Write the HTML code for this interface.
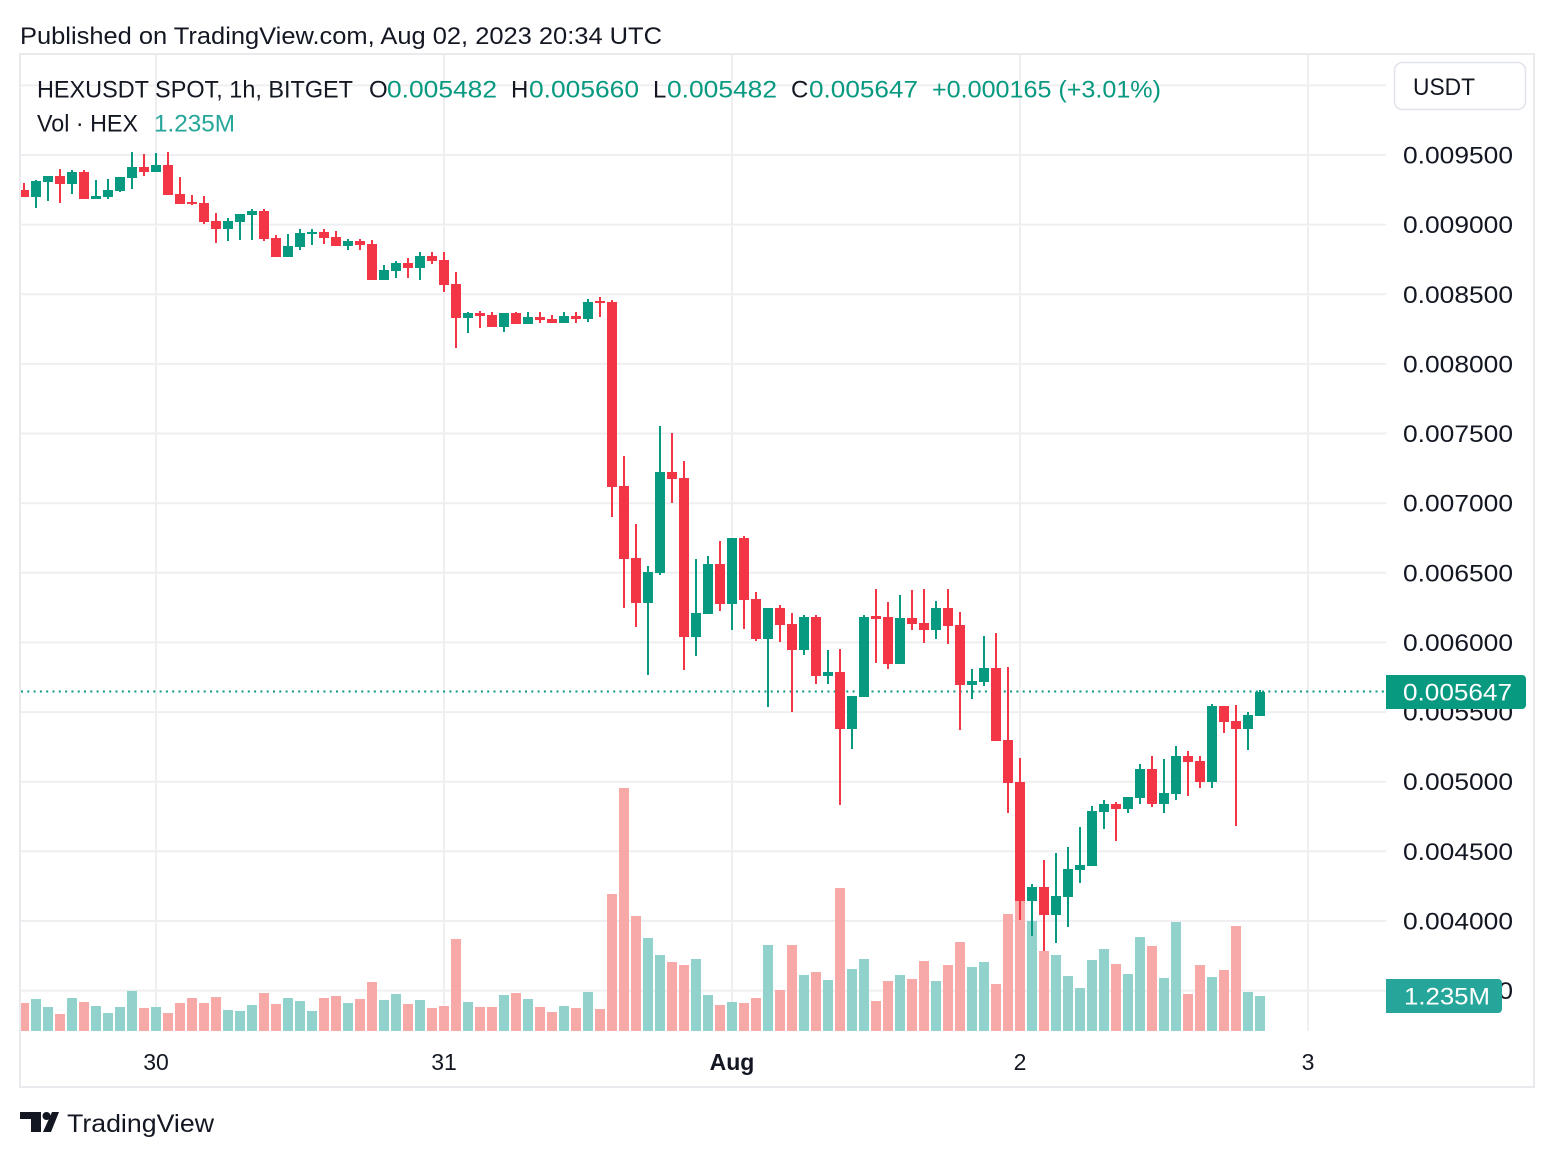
<!DOCTYPE html>
<html><head><meta charset="utf-8"><style>
html,body{margin:0;padding:0;background:#fff;}
svg{display:block;}
text{font-family:"Liberation Sans",sans-serif;}
.g{fill:#089981}.r{fill:#f23645}
.vg{fill:#92d2cc}.vr{fill:#f7a9a7}
.grid{stroke:#efeff1;stroke-width:2}
.pl{font-size:24px;fill:#131722}
</style></head><body>
<svg width="1554" height="1158" viewBox="0 0 1554 1158" xmlns="http://www.w3.org/2000/svg">
<rect width="1554" height="1158" fill="#fff"/>
<text x="20" y="44" font-size="24" fill="#131722" textLength="642" lengthAdjust="spacingAndGlyphs">Published on TradingView.com, Aug 02, 2023 20:34 UTC</text>
<rect x="20" y="54" width="1514" height="1033" fill="#fff" stroke="#e9e9ee" stroke-width="2"/>
<g class="grid">
<path d="M21 85.4H1386M21 155H1386M21 224.6H1386M21 294.3H1386M21 363.9H1386M21 433.5H1386M21 503.2H1386M21 572.8H1386M21 642.4H1386M21 712.1H1386M21 781.7H1386M21 851.3H1386M21 921H1386M21 990.6H1386"/>
<path d="M156 55V1031M444 55V1031M732 55V1031M1020 55V1031M1308 55V1031"/>
</g>
<path class="vg" d="M31 999h10V1031h-10zM43 1007h10V1031h-10zM67 998h10V1031h-10zM91 1006h10V1031h-10zM103 1013h10V1031h-10zM115 1007h10V1031h-10zM127 991h10V1031h-10zM151 1007h10V1031h-10zM223 1010h10V1031h-10zM235 1011h10V1031h-10zM247 1005h10V1031h-10zM283 998h10V1031h-10zM295 1001h10V1031h-10zM307 1011h10V1031h-10zM343 1003h10V1031h-10zM379 1000h10V1031h-10zM391 994h10V1031h-10zM415 1000h10V1031h-10zM463 1002h10V1031h-10zM499 995h10V1031h-10zM523 999h10V1031h-10zM559 1006h10V1031h-10zM583 992h10V1031h-10zM643 938h10V1031h-10zM655 955h10V1031h-10zM691 959h10V1031h-10zM703 995h10V1031h-10zM727 1002h10V1031h-10zM763 945h10V1031h-10zM799 975h10V1031h-10zM823 980h10V1031h-10zM847 969h10V1031h-10zM859 959h10V1031h-10zM895 975h10V1031h-10zM931 981h10V1031h-10zM967 967h10V1031h-10zM979 962h10V1031h-10zM1027 921h10V1031h-10zM1051 955h10V1031h-10zM1063 976h10V1031h-10zM1075 988h10V1031h-10zM1087 960h10V1031h-10zM1099 949h10V1031h-10zM1123 974h10V1031h-10zM1135 937h10V1031h-10zM1159 978h10V1031h-10zM1171 922h10V1031h-10zM1207 977h10V1031h-10zM1243 992h10V1031h-10zM1255 996h10V1031h-10z"/>
<path class="vr" d="M21 1003h8V1031h-8zM55 1014h10V1031h-10zM79 1002h10V1031h-10zM139 1008h10V1031h-10zM163 1013h10V1031h-10zM175 1003h10V1031h-10zM187 998h10V1031h-10zM199 1003h10V1031h-10zM211 997h10V1031h-10zM259 993h10V1031h-10zM271 1004h10V1031h-10zM319 998h10V1031h-10zM331 996h10V1031h-10zM355 999h10V1031h-10zM367 982h10V1031h-10zM403 1004h10V1031h-10zM427 1008h10V1031h-10zM439 1006h10V1031h-10zM451 939h10V1031h-10zM475 1007h10V1031h-10zM487 1007h10V1031h-10zM511 993h10V1031h-10zM535 1007h10V1031h-10zM547 1012h10V1031h-10zM571 1008h10V1031h-10zM595 1009h10V1031h-10zM607 894h10V1031h-10zM619 788h10V1031h-10zM631 916h10V1031h-10zM667 962h10V1031h-10zM679 965h10V1031h-10zM715 1005h10V1031h-10zM739 1003h10V1031h-10zM751 998h10V1031h-10zM775 990h10V1031h-10zM787 945h10V1031h-10zM811 972h10V1031h-10zM835 888h10V1031h-10zM871 1001h10V1031h-10zM883 981h10V1031h-10zM907 979h10V1031h-10zM919 961h10V1031h-10zM943 965h10V1031h-10zM955 942h10V1031h-10zM991 984h10V1031h-10zM1003 914h10V1031h-10zM1015 900h10V1031h-10zM1039 951h10V1031h-10zM1111 964h10V1031h-10zM1147 946h10V1031h-10zM1183 994h10V1031h-10zM1195 965h10V1031h-10zM1219 970h10V1031h-10zM1231 926h10V1031h-10z"/>
<path d="M21 691.5H1386" stroke="#089981" stroke-width="2" stroke-dasharray="2 4.3"/>
<path class="r" d="M23 183h2v14h-2zM21 190h8v7h-8z"/>
<path class="g" d="M35 180h2v28h-2zM31 181h10v16h-10z"/>
<path class="g" d="M47 176h2v25h-2zM43 176h10v6h-10z"/>
<path class="r" d="M59 169h2v34h-2zM55 176h10v8h-10z"/>
<path class="g" d="M71 170h2v24h-2zM67 172h10v12h-10z"/>
<path class="r" d="M83 170h2v29h-2zM79 172h10v27h-10z"/>
<path class="g" d="M95 180h2v19h-2zM91 196h10v3h-10z"/>
<path class="g" d="M107 179h2v20h-2zM103 190h10v7h-10z"/>
<path class="g" d="M119 177h2v15h-2zM115 177h10v14h-10z"/>
<path class="g" d="M131 152h2v37h-2zM127 167h10v11h-10z"/>
<path class="r" d="M143 154h2v22h-2zM139 167h10v5h-10z"/>
<path class="g" d="M155 153h2v19h-2zM151 165h10v7h-10z"/>
<path class="r" d="M167 152h2v43h-2zM163 165h10v30h-10z"/>
<path class="r" d="M179 177h2v27h-2zM175 194h10v10h-10z"/>
<path class="r" d="M191 195h2v10h-2zM187 202h10v2h-10z"/>
<path class="r" d="M203 196h2v28h-2zM199 203h10v19h-10z"/>
<path class="r" d="M215 213h2v30h-2zM211 221h10v8h-10z"/>
<path class="g" d="M227 218h2v23h-2zM223 221h10v8h-10z"/>
<path class="g" d="M239 214h2v26h-2zM235 214h10v8h-10z"/>
<path class="g" d="M251 209h2v31h-2zM247 211h10v4h-10z"/>
<path class="r" d="M263 209h2v32h-2zM259 211h10v28h-10z"/>
<path class="r" d="M275 235h2v22h-2zM271 238h10v19h-10z"/>
<path class="g" d="M287 234h2v23h-2zM283 246h10v11h-10z"/>
<path class="g" d="M299 229h2v21h-2zM295 233h10v14h-10z"/>
<path class="g" d="M311 229h2v16h-2zM307 232h10v2h-10z"/>
<path class="r" d="M323 229h2v15h-2zM319 232h10v6h-10z"/>
<path class="r" d="M335 231h2v15h-2zM331 237h10v9h-10z"/>
<path class="g" d="M347 239h2v11h-2zM343 241h10v5h-10z"/>
<path class="r" d="M359 239h2v11h-2zM355 241h10v4h-10z"/>
<path class="r" d="M371 240h2v40h-2zM367 244h10v36h-10z"/>
<path class="g" d="M383 265h2v15h-2zM379 270h10v10h-10z"/>
<path class="g" d="M395 261h2v17h-2zM391 263h10v8h-10z"/>
<path class="r" d="M407 258h2v20h-2zM403 263h10v5h-10z"/>
<path class="g" d="M419 252h2v28h-2zM415 256h10v12h-10z"/>
<path class="r" d="M431 252h2v12h-2zM427 256h10v5h-10z"/>
<path class="r" d="M443 252h2v40h-2zM439 260h10v25h-10z"/>
<path class="r" d="M455 272h2v76h-2zM451 284h10v34h-10z"/>
<path class="g" d="M467 312h2v21h-2zM463 313h10v5h-10z"/>
<path class="r" d="M479 311h2v17h-2zM475 313h10v3h-10z"/>
<path class="r" d="M491 312h2v15h-2zM487 315h10v12h-10z"/>
<path class="g" d="M503 313h2v19h-2zM499 313h10v14h-10z"/>
<path class="r" d="M515 312h2v12h-2zM511 313h10v11h-10z"/>
<path class="g" d="M527 312h2v12h-2zM523 317h10v7h-10z"/>
<path class="r" d="M539 312h2v11h-2zM535 317h10v3h-10z"/>
<path class="r" d="M551 315h2v8h-2zM547 319h10v4h-10z"/>
<path class="g" d="M563 312h2v11h-2zM559 316h10v7h-10z"/>
<path class="r" d="M575 312h2v11h-2zM571 316h10v3h-10z"/>
<path class="g" d="M587 299h2v23h-2zM583 302h10v17h-10z"/>
<path class="r" d="M599 297h2v20h-2zM595 301h10v2h-10z"/>
<path class="r" d="M611 300h2v217h-2zM607 302h10v185h-10z"/>
<path class="r" d="M623 456h2v152h-2zM619 486h10v73h-10z"/>
<path class="r" d="M635 524h2v103h-2zM631 558h10v45h-10z"/>
<path class="g" d="M647 566h2v109h-2zM643 572h10v31h-10z"/>
<path class="g" d="M659 426h2v149h-2zM655 472h10v101h-10z"/>
<path class="r" d="M671 433h2v70h-2zM667 472h10v7h-10z"/>
<path class="r" d="M683 461h2v209h-2zM679 478h10v159h-10z"/>
<path class="g" d="M695 559h2v97h-2zM691 613h10v24h-10z"/>
<path class="g" d="M707 556h2v58h-2zM703 564h10v50h-10z"/>
<path class="r" d="M719 541h2v70h-2zM715 564h10v40h-10z"/>
<path class="g" d="M731 538h2v92h-2zM727 538h10v66h-10z"/>
<path class="r" d="M743 536h2v93h-2zM739 538h10v62h-10z"/>
<path class="r" d="M755 592h2v49h-2zM751 599h10v40h-10z"/>
<path class="g" d="M767 608h2v99h-2zM763 608h10v31h-10z"/>
<path class="r" d="M779 605h2v37h-2zM775 608h10v17h-10z"/>
<path class="r" d="M791 613h2v99h-2zM787 624h10v26h-10z"/>
<path class="g" d="M803 615h2v40h-2zM799 617h10v33h-10z"/>
<path class="r" d="M815 615h2v69h-2zM811 617h10v59h-10z"/>
<path class="g" d="M827 650h2v34h-2zM823 672h10v4h-10z"/>
<path class="r" d="M839 649h2v156h-2zM835 672h10v57h-10z"/>
<path class="g" d="M851 696h2v53h-2zM847 696h10v33h-10z"/>
<path class="g" d="M863 615h2v82h-2zM859 617h10v80h-10z"/>
<path class="r" d="M875 589h2v74h-2zM871 616h10v3h-10z"/>
<path class="r" d="M887 602h2v67h-2zM883 617h10v47h-10z"/>
<path class="g" d="M899 595h2v69h-2zM895 618h10v46h-10z"/>
<path class="r" d="M911 590h2v40h-2zM907 618h10v6h-10z"/>
<path class="r" d="M923 589h2v54h-2zM919 623h10v7h-10z"/>
<path class="g" d="M935 601h2v38h-2zM931 608h10v22h-10z"/>
<path class="r" d="M947 589h2v55h-2zM943 608h10v18h-10z"/>
<path class="r" d="M959 612h2v118h-2zM955 625h10v60h-10z"/>
<path class="g" d="M971 669h2v30h-2zM967 681h10v4h-10z"/>
<path class="g" d="M983 636h2v50h-2zM979 668h10v14h-10z"/>
<path class="r" d="M995 633h2v108h-2zM991 668h10v73h-10z"/>
<path class="r" d="M1007 667h2v146h-2zM1003 740h10v43h-10z"/>
<path class="r" d="M1019 758h2v162h-2zM1015 782h10v119h-10z"/>
<path class="g" d="M1031 884h2v52h-2zM1027 887h10v14h-10z"/>
<path class="r" d="M1043 860h2v91h-2zM1039 887h10v28h-10z"/>
<path class="g" d="M1055 853h2v90h-2zM1051 896h10v19h-10z"/>
<path class="g" d="M1067 847h2v80h-2zM1063 869h10v28h-10z"/>
<path class="g" d="M1079 827h2v56h-2zM1075 865h10v5h-10z"/>
<path class="g" d="M1091 806h2v60h-2zM1087 811h10v55h-10z"/>
<path class="g" d="M1103 800h2v29h-2zM1099 804h10v8h-10z"/>
<path class="r" d="M1115 802h2v39h-2zM1111 804h10v5h-10z"/>
<path class="g" d="M1127 797h2v16h-2zM1123 797h10v12h-10z"/>
<path class="g" d="M1139 764h2v40h-2zM1135 769h10v29h-10z"/>
<path class="r" d="M1151 756h2v51h-2zM1147 769h10v35h-10z"/>
<path class="g" d="M1163 759h2v54h-2zM1159 793h10v11h-10z"/>
<path class="g" d="M1175 746h2v54h-2zM1171 756h10v38h-10z"/>
<path class="r" d="M1187 751h2v45h-2zM1183 756h10v6h-10z"/>
<path class="r" d="M1199 756h2v32h-2zM1195 761h10v21h-10z"/>
<path class="g" d="M1211 704h2v84h-2zM1207 706h10v76h-10z"/>
<path class="r" d="M1223 706h2v27h-2zM1219 706h10v16h-10z"/>
<path class="r" d="M1235 705h2v121h-2zM1231 721h10v8h-10z"/>
<path class="g" d="M1247 712h2v38h-2zM1243 715h10v14h-10z"/>
<path class="g" d="M1259 690h2v26h-2zM1255 692h10v24h-10z"/>
<g class="pl">
<text x="1403" y="163.5" textLength="110" lengthAdjust="spacingAndGlyphs">0.009500</text>
<text x="1403" y="233.1" textLength="110" lengthAdjust="spacingAndGlyphs">0.009000</text>
<text x="1403" y="302.8" textLength="110" lengthAdjust="spacingAndGlyphs">0.008500</text>
<text x="1403" y="372.4" textLength="110" lengthAdjust="spacingAndGlyphs">0.008000</text>
<text x="1403" y="442" textLength="110" lengthAdjust="spacingAndGlyphs">0.007500</text>
<text x="1403" y="511.7" textLength="110" lengthAdjust="spacingAndGlyphs">0.007000</text>
<text x="1403" y="581.3" textLength="110" lengthAdjust="spacingAndGlyphs">0.006500</text>
<text x="1403" y="650.9" textLength="110" lengthAdjust="spacingAndGlyphs">0.006000</text>
<text x="1403" y="720.6" textLength="110" lengthAdjust="spacingAndGlyphs">0.005500</text>
<text x="1403" y="790.2" textLength="110" lengthAdjust="spacingAndGlyphs">0.005000</text>
<text x="1403" y="859.8" textLength="110" lengthAdjust="spacingAndGlyphs">0.004500</text>
<text x="1403" y="929.5" textLength="110" lengthAdjust="spacingAndGlyphs">0.004000</text>
<text x="1403" y="999.1" textLength="110" lengthAdjust="spacingAndGlyphs">0.003500</text>
</g>
<path d="M1386 675H1522a4 4 0 0 1 4 4V705a4 4 0 0 1 -4 4H1386z" fill="#089981"/>
<text x="1403" y="700.5" font-size="24" fill="#fff" textLength="109" lengthAdjust="spacingAndGlyphs">0.005647</text>
<path d="M1386 979H1498a4 4 0 0 1 4 4V1009a4 4 0 0 1 -4 4H1386z" fill="#26a69a"/>
<text x="1404" y="1004.5" font-size="24" fill="#fff" textLength="86" lengthAdjust="spacingAndGlyphs">1.235M</text>
<rect x="1394.5" y="62.5" width="131" height="47" rx="8" fill="#fff" stroke="#e0e3eb" stroke-width="1.5"/>
<text x="1413" y="95" font-size="24" fill="#131722" textLength="62" lengthAdjust="spacingAndGlyphs">USDT</text>
<text x="37" y="97.5" font-size="24" fill="#131722" textLength="316" lengthAdjust="spacingAndGlyphs">HEXUSDT SPOT, 1h, BITGET</text>
<text x="369" y="97.5" font-size="24" fill="#131722">O</text>
<text x="387" y="97.5" font-size="24" fill="#089981" textLength="110" lengthAdjust="spacingAndGlyphs">0.005482</text>
<text x="511" y="97.5" font-size="24" fill="#131722">H</text>
<text x="529" y="97.5" font-size="24" fill="#089981" textLength="110" lengthAdjust="spacingAndGlyphs">0.005660</text>
<text x="653" y="97.5" font-size="24" fill="#131722">L</text>
<text x="667" y="97.5" font-size="24" fill="#089981" textLength="110" lengthAdjust="spacingAndGlyphs">0.005482</text>
<text x="791" y="97.5" font-size="24" fill="#131722">C</text>
<text x="809" y="97.5" font-size="24" fill="#089981" textLength="109" lengthAdjust="spacingAndGlyphs">0.005647</text>
<text x="932" y="97.5" font-size="24" fill="#089981" textLength="229" lengthAdjust="spacingAndGlyphs">+0.000165 (+3.01%)</text>
<text x="37" y="131.5" font-size="24" fill="#131722" textLength="101" lengthAdjust="spacingAndGlyphs">Vol · HEX</text>
<text x="154" y="131.5" font-size="24" fill="#26a69a" textLength="81" lengthAdjust="spacingAndGlyphs">1.235M</text>
<g font-size="23" fill="#131722" text-anchor="middle">
<text x="156" y="1070">30</text>
<text x="444" y="1070">31</text>
<text x="732" y="1070" font-weight="bold">Aug</text>
<text x="1020" y="1070">2</text>
<text x="1308" y="1070">3</text>
</g>
<g fill="#131722">
<path d="M20 1112H41V1132H31V1119H20z"/>
<circle cx="46.5" cy="1116" r="4"/>
<path d="M52 1112H59L51 1132H43z"/>
</g>
<text x="67" y="1132" font-size="25" fill="#131722" textLength="147" lengthAdjust="spacingAndGlyphs">TradingView</text>
</svg>
</body></html>
